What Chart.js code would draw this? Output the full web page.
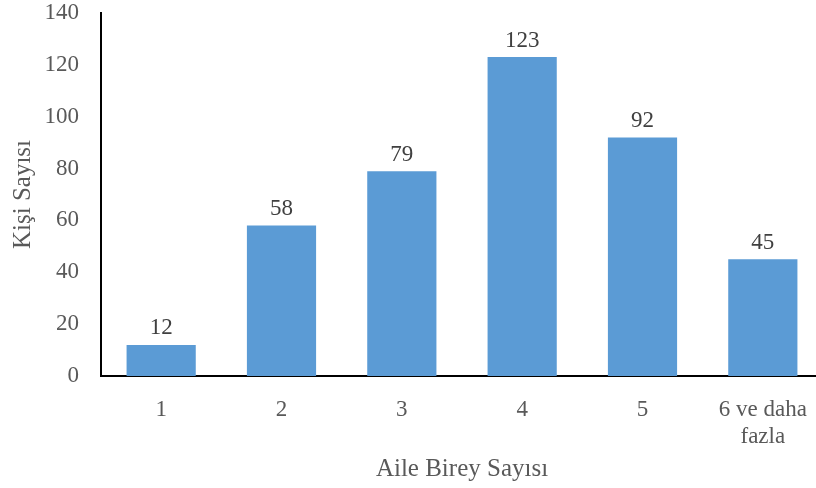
<!DOCTYPE html>
<html>
<head>
<meta charset="utf-8">
<script src="https://cdn.jsdelivr.net/npm/chart.js@4"></script>
<style>
  html, body { margin: 0; padding: 0; background: #fff; overflow: hidden; }
  #wrap { width: 823px; height: 488px; position: relative; }
</style>
</head>
<body>
<div id="wrap"><canvas id="c"></canvas></div>
<script>
const categories = ['1', '2', '3', '4', '5', ['6 ve daha', 'fazla']];
const counts = [12, 58, 79, 123, 92, 45];
const yTicks = [0, 20, 40, 60, 80, 100, 120, 140];

const FONT = '"Liberation Serif", "Times New Roman", serif';
const TEXT = '#595959';

// value labels above each bar
const barValues = {
  id: 'barValues',
  afterDatasetsDraw(chart) {
    const ctx = chart.ctx;
    const meta = chart.getDatasetMeta(0);
    ctx.save();
    ctx.font = '23px ' + FONT;
    ctx.fillStyle = '#404040';
    ctx.textAlign = 'center';
    ctx.textBaseline = 'bottom';
    meta.data.forEach((bar, i) => {
      ctx.fillText(String(counts[i]), bar.x, bar.y - 5);
    });
    ctx.restore();
  }
};

new Chart(document.getElementById('c'), {
  type: 'bar',
  data: {
    labels: categories,
    datasets: [{
      data: counts,
      backgroundColor: '#5B9BD5',
      barPercentage: 0.575,
      categoryPercentage: 1
    }]
  },
  options: {
    responsive: true,
    maintainAspectRatio: false,
    animation: false,
    layout: { padding: { top: 13, left: 0, right: 0, bottom: 0 } },
    plugins: { legend: { display: false }, tooltip: { enabled: false } },
    scales: {
      x: {
        grid: { display: false },
        border: { display: true, color: '#000', width: 2 },
        ticks: { color: TEXT, font: { family: FONT, size: 23, lineHeight: 1.15 }, padding: 13, maxRotation: 0, autoSkip: false },
        title: { display: true, text: 'Aile Birey Sayısı', color: TEXT, font: { family: FONT, size: 25 }, padding: { top: 0, bottom: 4 } },
        afterFit(s) { s.height = 112; s.paddingLeft = 0; s.paddingRight = 0; }
      },
      y: {
        min: 0, max: 140,
        grid: { display: false },
        border: { display: true, color: '#000', width: 2 },
        afterBuildTicks(s) { s.ticks = yTicks.map(v => ({ value: v })); },
        ticks: { color: TEXT, font: { family: FONT, size: 23 }, padding: 14 },
        title: { display: true, text: 'Kişi Sayısı', color: TEXT, font: { family: FONT, size: 25 }, padding: { top: 8, bottom: 0 } },
        afterFit(s) { s.width = 101; s.paddingTop = 0; s.paddingBottom = 0; }
      }
    }
  },
  plugins: [barValues]
});
</script>
</body>
</html>
